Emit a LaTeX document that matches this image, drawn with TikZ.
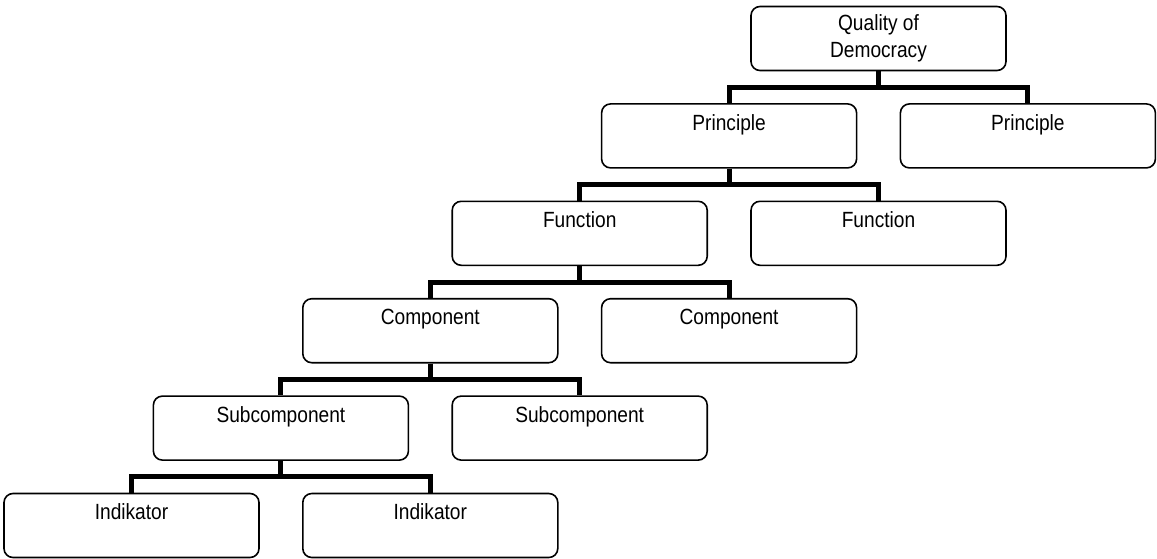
\documentclass[tikz,border=0pt]{standalone}
\usepackage{fontspec}
\setmainfont{Liberation Sans}[FakeStretch=0.87]
\usetikzlibrary{calc}
\begin{document}
\begin{tikzpicture}[x=0.5pt, y=-0.5pt]
      \tikzstyle{STY1} = [draw, line width=0.8pt, rectangle, rounded corners=4.5pt, minimum height=32pt, minimum width=127.5pt, align=center, inner sep=0pt, font=\fontsize{11}{13.5}\selectfont]
      \tikzstyle{STY2} = [line width=2.5pt, to path={|- ($(\tikztostart)!.5!(\tikztotarget)$) -| (\tikztotarget)}]

      \useasboundingbox (0,0) rectangle (1157,558);

      %%%%% BOXES

      \node[STY1](qd) at ({131.5 + 149.4*5}, {38.5 + 97.4*0}) {Quality of\\Democracy};

      \node[STY1](pr1) at ({131.5 + 149.4*4}, {38.5 + 97.4*1}) {Principle\\\mbox{}};
      \node[STY1](pr2) at ({131.5 + 149.4*6}, {38.5 + 97.4*1}) {Principle\\\mbox{}};

      \node[STY1](fn1) at ({131.5 + 149.4*3}, {38.5 + 97.4*2}) {Function\\\mbox{}};
      \node[STY1](fn2) at ({131.5 + 149.4*5}, {38.5 + 97.4*2}) {Function\\\mbox{}};

      \node[STY1](cp1) at ({131.5 + 149.4*2}, {38.5 + 97.4*3}) {Component\\\mbox{}};
      \node[STY1](cp2) at ({131.5 + 149.4*4}, {38.5 + 97.4*3}) {Component\\\mbox{}};

      \node[STY1](sc1) at ({131.5 + 149.4*1}, {38.5 + 97.4*4}) {Subcomponent\\\mbox{}};
      \node[STY1](sc2) at ({131.5 + 149.4*3}, {38.5 + 97.4*4}) {Subcomponent\\\mbox{}};

      \node[STY1](in1) at ({131.5 + 149.4*0}, {38.5 + 97.4*5}) {Indikator\\\mbox{}};
      \node[STY1](in2) at ({131.5 + 149.4*2}, {38.5 + 97.4*5}) {Indikator\\\mbox{}};

      %%%%% EDGES
      \draw[STY2]  (qd.south) to (pr1.north);
      \draw[STY2]  (qd.south) to (pr2.north);

      \draw[STY2]  (pr1.south) to (fn1.north);
      \draw[STY2]  (pr1.south) to (fn2.north);

      \draw[STY2]  (fn1.south) to (cp1.north);
      \draw[STY2]  (fn1.south) to (cp2.north);

      \draw[STY2]  (cp1.south) to (sc1.north);
      \draw[STY2]  (cp1.south) to (sc2.north);

      \draw[STY2]  (sc1.south) to (in1.north);
      \draw[STY2]  (sc1.south) to (in2.north);
    \end{tikzpicture}
\end{document}
